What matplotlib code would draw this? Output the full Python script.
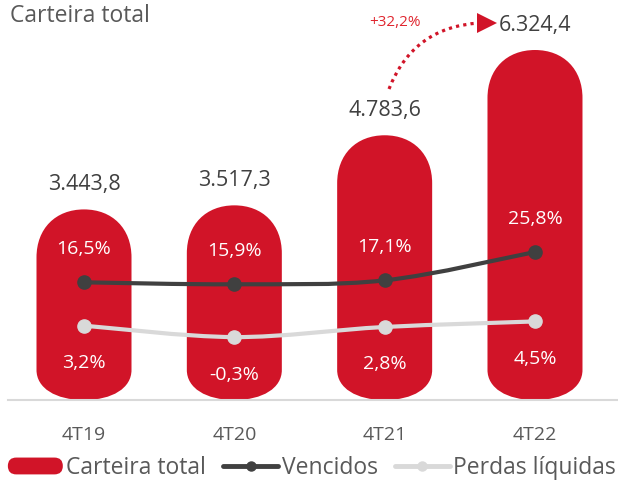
import matplotlib
matplotlib.use("Agg")
import matplotlib.pyplot as plt
from matplotlib.path import Path
from matplotlib.patches import PathPatch, FancyBboxPatch, FancyArrowPatch
from matplotlib.legend_handler import HandlerPatch
from matplotlib.lines import Line2D
import matplotlib.patches as mpatches

plt.rcParams['font.family'] = ['Open Sans', 'DejaVu Sans']

# ---- data ----
quarters = ['4T19', '4T20', '4T21', '4T22']
carteira = [3443.8, 3517.3, 4783.6, 6324.4]
vencidos = [16.5, 15.9, 17.1, 25.8]
perdas = [3.2, -0.3, 2.8, 4.5]
growth_label = '+32,2%'
title = 'Carteira total'
legend_labels = ['Carteira total', 'Vencidos', 'Perdas líquidas']

RED = '#D11428'
DARK = '#404040'
LIGHT = '#D9D9D9'
GRAY_TXT = '#595959'


def fmt_num(v):
    s = f"{v:,.1f}"
    return s.replace(',', 'X').replace('.', ',').replace('X', '.')


def fmt_pct(v):
    return f"{v:.1f}".replace('.', ',') + '%'


W, H = 618, 484
fig = plt.figure(figsize=(W / 100, H / 100), dpi=100)
ax_left, ax_bottom, ax_w, ax_h = 8, 84, 609, 400
ax = fig.add_axes([ax_left / W, ax_bottom / H, ax_w / W, ax_h / H])
ax2 = ax.twinx()
ax2.set_position(ax.get_position())

x = list(range(len(quarters)))
xpx_per_unit = 150.33
xmin = -(84 - ax_left) / xpx_per_unit
xmax = xmin + ax_w / xpx_per_unit
ax.set_xlim(xmin, xmax)
ax2.set_xlim(xmin, xmax)
ymax = 7228
ax.set_ylim(0, ymax)
yunit_per_px = ymax / ax_h
ax2.set_ylim(-19.6, 103.1)

# ---- pill bars ----
bar_w = 95 / xpx_per_unit
k = 0.60
for xi, h in zip(x, carteira):
    rx = bar_w / 2
    ryt = 48 * yunit_per_px
    ryb = 30 * yunit_per_px
    c = xi
    verts = [
        (c - rx, ryb),
        (c - rx, h - ryt),
        (c - rx, h - ryt + k * ryt), (c - k * rx, h), (c, h),
        (c + k * rx, h), (c + rx, h - ryt + k * ryt), (c + rx, h - ryt),
        (c + rx, ryb),
        (c + rx, ryb - k * ryb), (c + k * rx, 0), (c, 0),
        (c - k * rx, 0), (c - rx, ryb - k * ryb), (c - rx, ryb),
        (c - rx, ryb),
    ]
    codes = [Path.MOVETO, Path.LINETO,
             Path.CURVE4, Path.CURVE4, Path.CURVE4,
             Path.CURVE4, Path.CURVE4, Path.CURVE4,
             Path.LINETO,
             Path.CURVE4, Path.CURVE4, Path.CURVE4,
             Path.CURVE4, Path.CURVE4, Path.CURVE4,
             Path.CLOSEPOLY]
    ax.add_patch(PathPatch(Path(verts, codes), facecolor=RED, edgecolor='none', zorder=2))
    ax.annotate(fmt_num(h), (xi, h), xytext=(0, 18), textcoords='offset points',
                ha='center', va='center', fontsize=15.5, color=DARK)


# ---- smooth lines ----
def smooth_path(xs, ys):
    pts = list(zip(xs, ys))
    n = len(pts)
    verts = [pts[0]]
    codes = [Path.MOVETO]
    for i in range(n - 1):
        p0 = pts[i - 1] if i > 0 else pts[i]
        p1 = pts[i]
        p2 = pts[i + 1]
        p3 = pts[i + 2] if i + 2 < n else pts[i + 1]
        c1 = (p1[0] + (p2[0] - p0[0]) / 6, p1[1] + (p2[1] - p0[1]) / 6)
        c2 = (p2[0] - (p3[0] - p1[0]) / 6, p2[1] - (p3[1] - p1[1]) / 6)
        verts += [c1, c2, p2]
        codes += [Path.CURVE4] * 3
    return Path(verts, codes)


for series, col in [(vencidos, DARK), (perdas, LIGHT)]:
    ax2.add_patch(PathPatch(smooth_path(x, series), facecolor='none', edgecolor=col,
                            lw=3, capstyle='round', joinstyle='round', zorder=3))
    ax2.plot(x, series, 'o', color=col, markersize=9.5, zorder=4)

for xi, v in zip(x, vencidos):
    ax2.annotate(fmt_pct(v), (xi, v), xytext=(0, 24), textcoords='offset points',
                 ha='center', va='center', fontsize=14, color='white', zorder=5)
for xi, v in zip(x, perdas):
    ax2.annotate(fmt_pct(v), (xi, v), xytext=(0, -27), textcoords='offset points',
                 ha='center', va='center', fontsize=14, color='white', zorder=5)


# ---- growth arrow ----
def px2data(px, py):
    return (xmin + (px - ax_left) / xpx_per_unit, (400 - py) * yunit_per_px)


start = px2data(389, 89)
end = px2data(479, 23)
tip = px2data(487, 23)
arr = FancyArrowPatch(start, end, connectionstyle='arc3,rad=-0.32',
                      arrowstyle='-', color=RED, lw=2.3, linestyle=(0, (1.0, 1.3)),
                      capstyle='butt', zorder=5, shrinkA=0, shrinkB=0)
ax.add_patch(arr)
ax.plot([tip[0]], [tip[1]], marker='>', color=RED, markersize=14, zorder=6, clip_on=False,
        markeredgewidth=0)
lab = px2data(395, 22)
ax.text(lab[0], lab[1], growth_label, ha='center', va='center', fontsize=11, color='#E0262F')

# ---- axes styling ----
for a in (ax, ax2):
    for s in a.spines.values():
        s.set_visible(False)
    a.set_yticks([])
ax.spines['bottom'].set_visible(True)
ax.spines['bottom'].set_color(LIGHT)
ax.spines['bottom'].set_linewidth(1.5)
ax.set_xticks(x)
ax.set_xticklabels(quarters, fontsize=14, color=GRAY_TXT)
ax.tick_params(axis='x', length=0, pad=19)

fig.text(10 / W, 1 - 16 / H, title, ha='left', va='center', fontsize=16.5, color=GRAY_TXT)


# ---- legend ----
class HandlerPill(HandlerPatch):
    def create_artists(self, legend, orig_handle, xdescent, ydescent, width, height, fontsize, trans):
        hh = height * 1.05
        p = FancyBboxPatch((-xdescent, -ydescent + (height - hh) / 2), width, hh,
                           boxstyle=f'round,pad=0,rounding_size={hh / 2}',
                           facecolor=RED, edgecolor='none', transform=trans)
        return [p]


handles = [mpatches.Patch(color=RED),
           Line2D([], [], color=DARK, lw=3.5, marker='o', markersize=6.5, solid_capstyle='round'),
           Line2D([], [], color=LIGHT, lw=3.5, marker='o', markersize=6.5, solid_capstyle='round')]
leg = fig.legend(handles, legend_labels, loc='center', bbox_to_anchor=(312 / W, 1 - 468 / H),
                 ncol=3, frameon=False, fontsize=16.5, handlelength=2.4, handletextpad=0.15,
                 columnspacing=0.75, handler_map={mpatches.Patch: HandlerPill()},
                 borderaxespad=0, borderpad=0)
for t in leg.get_texts():
    t.set_color(GRAY_TXT)

fig.savefig('out.png', dpi=100)
